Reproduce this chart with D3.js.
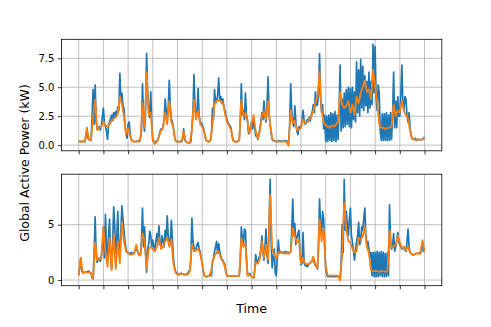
<!DOCTYPE html>
<html>
<head>
<meta charset="utf-8">
<script src="https://cdn.jsdelivr.net/npm/d3@7"></script>
<style>
body { margin: 0; background: #fff; }
svg { font-family: "DejaVu Sans", sans-serif; }
</style>
</head>
<body>
<div id="chart"></div>
<script>
var width = 491, height = 327;
// measured series is hourly, predicted one every 2 hours
var actualStepHours = 1;
var predictedStepHours = 2;

// top panel
var topActual = [
	0.3,0.35,0.3,0.3,0.35,0.3,0.3,0.9,1.5,0.6,0.5,0.4,0.4,2.5,4.8,1.8,5.2,2.0,1.4,1.5,1.6,1.3,1.7,2.4,
	3.2,1.9,1.6,1.2,0.5,1.8,2.0,2.3,2.6,2.1,2.8,2.4,2.9,2.6,3.3,3.0,6.2,3.8,4.5,3.4,3.2,1.8,1.0,0.6,
	1.8,2.0,1.0,0.5,0.35,0.3,0.3,0.3,0.3,0.35,0.4,0.3,0.6,1.2,5.3,2.2,1.2,3.0,7.9,4.5,3.0,2.4,4.6,1.8,
	0.4,0.35,0.3,0.3,0.3,0.5,0.8,1.2,1.4,1.3,1.6,2.2,4.0,3.0,2.2,3.2,5.6,3.4,2.3,2.0,1.5,0.8,0.4,0.3,
	0.3,0.3,0.3,0.35,0.3,0.6,1.4,0.5,0.3,0.25,0.2,0.2,0.2,0.3,1.5,2.8,6.1,3.5,2.5,2.8,4.9,2.6,2.0,1.9,
	1.8,1.5,1.2,0.6,0.4,0.35,0.3,0.3,0.4,1.0,3.2,2.2,4.8,3.6,3.8,4.3,5.8,3.9,4.2,3.6,4.0,3.4,3.0,2.6,
	2.2,2.0,1.8,1.7,1.5,0.8,0.4,0.35,0.3,0.3,0.3,0.35,0.4,2.0,5.3,2.6,3.0,2.2,4.5,2.6,2.2,1.0,1.2,1.6,
	2.0,1.4,2.3,1.5,0.8,1.0,0.5,0.8,1.5,2.0,2.8,2.2,3.8,2.4,2.0,3.5,5.9,2.6,1.8,1.0,0.5,0.4,0.35,0.35,
	0.35,0.3,0.35,0.4,0.35,0.3,0.35,0.35,0.35,0.4,0.35,0.3,0.2,1.8,5.3,2.8,2.0,1.6,3.4,2.0,1.2,0.9,1.6,1.4,
	1.6,2.0,3.0,2.2,1.8,1.9,2.2,2.0,2.4,2.1,2.6,2.9,3.5,2.8,4.6,3.4,3.5,4.4,7.9,4.0,2.8,3.5,1.4,2.6,
	0.3,2.5,0.3,2.6,0.4,2.8,0.3,2.7,0.4,2.9,0.3,2.6,0.5,3.0,6.9,1.2,4.0,1.5,4.5,1.6,4.8,1.8,5.0,1.6,
	4.9,1.5,5.0,2.2,4.6,2.0,7.2,2.8,6.5,2.5,7.4,3.2,6.8,3.0,6.0,3.4,5.5,2.8,6.3,3.2,5.5,3.5,8.7,4.5,
	8.5,4.0,3.0,5.2,4.5,1.2,0.4,2.7,0.4,2.7,0.4,2.8,0.4,2.6,0.4,2.8,0.5,2.6,6.3,1.5,3.8,1.5,4.2,2.5,
	2.5,4.5,6.9,3.5,3.0,4.2,4.0,2.5,2.0,2.8,1.5,0.8,0.6,0.5,0.5,0.6,0.4,0.5,0.5,0.45,0.45,0.5,0.5,0.6,0.7
];
var topPredicted = [
	0.3, 0.3, 0.35, 0.3, 1.4, 0.5, 0.4, 2.5, 3.9, 1.3, 1.5, 1.6,
	2.0, 1.7, 1.6, 1.8, 2.1, 2.3, 2.4, 2.7, 4.2, 3.5, 2.5, 0.9,
	1.5, 0.8, 0.35, 0.3, 0.3, 0.35, 0.5, 3.6, 1.5, 6.3, 2.6, 2.8,
	0.4, 0.1, 0.3, 0.7, 1.3, 1.5, 2.8, 1.8, 3.8, 2.0, 1.5, 0.4,
	0.3, 0.3, 0.3, 1.2, 0.3, 0.2, 0.2, 1.3, 3.9, 2.2, 3.0, 1.8,
	1.6, 1.1, 0.4, 0.3, 0.4, 1.8, 3.6, 3.8, 3.9, 3.8, 3.7, 2.8,
	2.0, 1.7, 1.3, 0.4, 0.3, 0.3, 0.4, 3.9, 2.5, 2.8, 2.0, 1.0,
	1.8, 2.6, 1.2, 0.6, 1.2, 2.5, 2.9, 2.2, 3.8, 1.8, 0.6, 0.35,
	0.3, 0.3, 0.3, 0.3, 0.3, 0.3, -0.05, 3.0, 1.9, 2.1, 1.3, 1.4,
	1.5, 2.2, 1.9, 2.0, 2.2, 2.4, 3.0, 3.6, 4.2, 6.3, 3.0, 2.0,
	1.7, 1.6, 1.5, 1.7, 1.6, 1.8, 2.0, 4.6, 3.5, 3.2, 3.4, 3.8,
	2.8, 3.5, 2.6, 4.2, 3.6, 4.5, 5.0, 5.6, 4.6, 4.8, 4.0, 6.5,
	5.0, 3.8, 1.8, 1.5, 1.5, 1.4, 1.5, 1.5, 1.6, 3.5, 2.5, 3.0,
	2.8, 3.8, 3.0, 2.6, 2.3, 1.2, 0.5, 0.5, 0.45, 0.5, 0.45, 0.5, 0.6
];

// bottom panel
var bottomActual = [
	0.5,1.2,2.0,0.8,0.7,0.7,0.7,0.75,0.7,0.8,0.8,0.7,0.6,0.2,0.1,2.5,5.7,2.2,1.6,1.8,2.0,1.7,2.2,3.0,
	4.8,2.0,5.9,3.0,1.5,4.0,5.5,2.0,1.0,3.5,6.6,5.0,1.2,3.8,6.2,2.5,2.0,4.5,6.7,5.5,4.5,3.5,2.8,2.5,
	2.5,2.4,2.4,2.5,2.4,2.4,2.5,2.7,3.0,2.6,2.4,2.3,2.3,3.5,6.5,3.0,4.8,2.5,0.7,2.8,3.2,4.4,4.0,3.0,
	3.6,3.0,2.8,3.5,4.2,3.2,4.9,3.3,3.0,4.0,3.5,3.0,4.5,3.6,5.8,4.0,3.5,3.2,5.4,3.8,2.0,1.2,0.8,0.6,
	0.6,0.5,0.5,0.6,0.6,0.55,0.5,0.5,0.5,0.55,0.6,0.8,0.9,1.8,5.6,3.5,3.0,2.6,2.8,3.2,3.4,2.8,2.6,2.0,
	1.6,0.8,0.4,0.35,0.3,0.3,0.35,0.4,0.6,0.4,1.7,2.0,2.6,3.0,3.5,2.4,3.3,2.6,2.2,1.9,1.8,1.6,1.4,0.7,
	0.4,0.35,0.35,0.35,0.35,0.4,0.35,0.35,0.35,0.35,0.35,0.35,0.4,1.5,4.8,3.8,3.2,4.6,4.5,2.0,0.5,0.4,0.6,0.5,
	0.3,0.25,0.2,0.8,2.3,1.6,1.5,2.0,2.2,2.8,4.0,2.5,1.8,3.0,4.6,2.2,1.5,5.0,9.1,3.5,1.1,2.0,2.8,0.6,
	0.4,2.0,3.6,2.4,2.6,2.5,2.5,2.5,2.5,2.6,2.5,2.5,2.5,2.4,2.6,4.5,7.3,4.0,5.1,3.2,3.8,4.2,4.5,2.5,
	1.4,1.5,4.3,1.6,1.3,1.4,1.2,1.3,1.5,1.6,1.6,1.8,2.1,1.5,1.3,1.2,1.0,3.0,7.3,5.0,4.0,6.2,5.5,3.0,
	1.0,0.5,0.3,0.35,0.3,0.3,0.35,0.3,0.3,0.3,0.3,0.35,0.3,0.25,0.1,1.5,5.0,2.5,9.1,4.5,6.2,5.0,4.0,5.5,
	6.5,4.0,3.4,2.6,1.8,2.8,3.5,4.0,5.2,3.2,3.5,4.8,4.5,5.5,6.5,4.0,3.0,3.5,2.8,2.0,2.5,0.4,2.5,0.3,
	2.5,0.3,2.6,0.3,2.5,0.4,2.6,0.3,2.5,0.3,2.4,0.3,2.5,0.4,6.8,3.5,2.8,3.2,4.2,2.6,3.0,3.6,4.3,3.4,
	3.2,3.0,2.8,2.9,3.0,2.7,2.6,3.5,4.6,3.0,2.5,2.4,2.3,2.3,2.3,2.4,2.4,2.4,2.4,2.5,2.4,2.8,3.2,2.6,2.7
];
var bottomPredicted = [
	0.4, 2.0, 0.6, 0.7, 0.7, 0.7, 0.6, 0.1, 3.4, 1.8, 1.9, 2.0,
	4.8, 2.5, 1.2, 3.8, 0.9, 4.2, 1.0, 3.5, 1.5, 5.2, 3.5, 2.6,
	2.4, 2.3, 2.3, 2.4, 3.2, 2.3, 2.2, 4.2, 3.5, 1.0, 2.8, 3.0,
	2.8, 2.6, 3.0, 3.8, 2.8, 3.0, 3.5, 3.9, 3.0, 3.7, 1.5, 0.7,
	0.5, 0.5, 0.6, 0.5, 0.5, 0.5, 0.8, 3.2, 2.6, 2.7, 2.8, 2.4,
	1.5, 0.4, 0.3, 0.35, 0.4, 1.6, 2.2, 2.5, 2.6, 2.0, 1.7, 1.2,
	0.4, 0.35, 0.35, 0.35, 0.35, 0.35, 0.4, 3.8, 3.0, 3.3, 0.4, 0.5,
	0.3, 0.2, 1.6, 1.5, 1.9, 3.5, 2.0, 3.2, 1.8, 7.7, 2.9, 2.2,
	2.0, 2.5, 2.5, 2.4, 2.4, 2.4, 2.4, 2.5, 4.7, 4.0, 3.4, 3.6,
	1.5, 2.0, 1.5, 1.4, 1.5, 1.6, 2.1, 1.4, 1.1, 5.5, 3.5, 4.6,
	1.2, 0.4, 0.4, 0.4, 0.4, 0.4, 0.4, -0.05, 2.3, 7.0, 4.5, 3.5,
	3.4, 2.8, 2.5, 2.6, 3.8, 3.6, 4.0, 4.8, 3.0, 2.4, 0.9, 0.8,
	0.8, 0.8, 0.75, 0.8, 0.8, 0.75, 0.8, 4.5, 2.9, 3.0, 3.2, 4.0,
	3.4, 2.9, 3.0, 2.7, 3.0, 2.5, 2.3, 2.3, 2.4, 2.4, 2.4, 3.6, 2.6
];

var topTicks = [0, 2.5, 5, 7.5];
var bottomTicks = [0, 5];
var dayTicks = [0, 1, 2, 3, 4, 5, 6, 7, 8, 9, 10, 11, 12, 13, 14];

var left = 61.4, right = 441.8, panelHeight = 111.5;

var svg = d3.select("#chart").append("svg")
	.attr("width", width)
	.attr("height", height);

function padded(ext){
	var pad = (ext[1] - ext[0]) * 0.05;
	return [ext[0] - pad, ext[1] + pad];
}

function toDays(values, stepHours){
	return values.map(function(d, i){ return { day: i * stepHours / 24, value: d }; });
}

function drawPanel(top, actual, predicted, yTicks, yFormat){
	var actualPts = toDays(actual, actualStepHours);
	var predictedPts = toDays(predicted, predictedStepHours);

	var x = d3.scaleLinear()
		.domain(padded(d3.extent(actualPts.concat(predictedPts), function(d){ return d.day; })))
		.range([left, right]);

	var y = d3.scaleLinear()
		.domain(padded(d3.extent(actual.concat(predicted))))
		.range([top + panelHeight, top]);

	var g = svg.append("g");

	// grid
	g.append("g").selectAll("line")
		.data(dayTicks)
		.enter().append("line")
		.attr("x1", function(d){ return x(d); })
		.attr("x2", function(d){ return x(d); })
		.attr("y1", top).attr("y2", top + panelHeight)
		.attr("stroke", "#b0b0b0").attr("stroke-width", 0.8);

	g.append("g").selectAll("line")
		.data(yTicks)
		.enter().append("line")
		.attr("x1", left).attr("x2", right)
		.attr("y1", function(d){ return y(d); })
		.attr("y2", function(d){ return y(d); })
		.attr("stroke", "#b0b0b0").attr("stroke-width", 0.8);

	var line = d3.line()
		.x(function(d){ return x(d.day); })
		.y(function(d){ return y(d.value); });

	g.append("path").datum(actualPts)
		.attr("d", line)
		.attr("fill", "none")
		.attr("stroke", "#1f77b4")
		.attr("stroke-width", 1.7)
		.attr("stroke-linejoin", "round");

	g.append("path").datum(predictedPts)
		.attr("d", line)
		.attr("fill", "none")
		.attr("stroke", "#ff7f0e")
		.attr("stroke-width", 1.8)
		.attr("stroke-linejoin", "round");

	// axes
	var xAxis = d3.axisBottom(x).tickValues(dayTicks).tickFormat("").tickSizeInner(3.5).tickSizeOuter(0);
	var gx = g.append("g")
		.attr("transform", "translate(0," + (top + panelHeight) + ")")
		.call(xAxis);
	gx.select(".domain").remove();

	var yAxis = d3.axisLeft(y).tickValues(yTicks).tickFormat(d3.format(yFormat)).tickSizeInner(3.5).tickSizeOuter(0).tickPadding(3.5);
	var gy = g.append("g")
		.attr("transform", "translate(" + left + ",0)")
		.call(yAxis);
	gy.select(".domain").remove();
	gy.selectAll("text").attr("font-size", 10).attr("fill", "#000").attr("font-family", "DejaVu Sans");
	g.selectAll(".tick line").attr("stroke", "#000").attr("stroke-width", 0.8);

	g.append("rect")
		.attr("x", left).attr("y", top)
		.attr("width", right - left).attr("height", panelHeight)
		.attr("fill", "none").attr("stroke", "#000").attr("stroke-width", 0.8);
}

drawPanel(39.3, topActual, topPredicted, topTicks, ".1f");
drawPanel(174.2, bottomActual, bottomPredicted, bottomTicks, "d");

svg.append("text")
	.attr("x", (left + right) / 2)
	.attr("y", 313)
	.attr("text-anchor", "middle")
	.attr("font-size", 12.5)
	.text("Time");

svg.append("text")
	.attr("transform", "translate(29,163) rotate(-90)")
	.attr("text-anchor", "middle")
	.attr("font-size", 12.5)
	.text("Global Active Power (kW)");
</script>
</body>
</html>
